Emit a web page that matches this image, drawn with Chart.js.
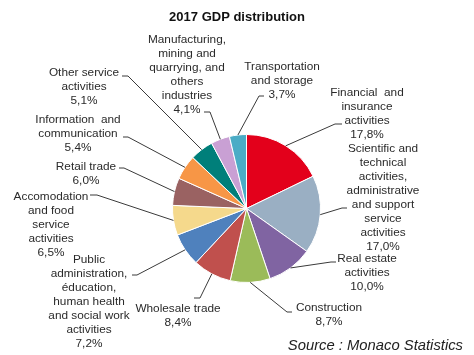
<!DOCTYPE html>
<html>
<head>
<meta charset="utf-8">
<script src="https://cdn.jsdelivr.net/npm/chart.js@4/dist/chart.umd.min.js"></script>
<style>
  html, body { margin: 0; padding: 0; background: #fff; }
  canvas { display: block; }
</style>
</head>
<body>
<canvas id="c" width="474" height="355"></canvas>
<script>
// ---- DATA ----
const categories = [
  "Financial and insurance activities",
  "Scientific and technical activities, administrative and support service activities",
  "Real estate activities",
  "Construction",
  "Wholesale trade",
  "Public administration, éducation, human health and social work activities",
  "Accomodation and food service activities",
  "Retail trade",
  "Information and communication",
  "Other service activities",
  "Manufacturing, mining and quarrying, and others industries",
  "Transportation and storage"
];
const values = [17.8, 17.0, 10.0, 8.7, 8.4, 7.2, 6.5, 6.0, 5.4, 5.1, 4.1, 3.7];
const labelLines = [
  ["Financial  and", "insurance", "activities"],
  ["Scientific and", "technical", "activities,", "administrative", "and support", "service", "activities"],
  ["Real estate", "activities"],
  ["Construction"],
  ["Wholesale trade"],
  ["Public", "administration,", "éducation,", "human health", "and social work", "activities"],
  ["Accomodation", "and food", "service", "activities"],
  ["Retail trade"],
  ["Information  and", "communication"],
  ["Other service", "activities"],
  ["Manufacturing,", "mining and", "quarrying, and", "others", "industries"],
  ["Transportation", "and storage"]
];
const titleText = "2017 GDP distribution";
const sourceText = "Source : Monaco Statistics";

// ---- STYLE / LAYOUT ----
const colors = ["#E3001B", "#9AAFC3", "#8064A2", "#9BBB59", "#C0504D", "#4F81BD",
                "#F5D98C", "#9A6262", "#F79646", "#007F7A", "#C9A0D4", "#4BACC6"];
// label layout: text centre x, first line centre y, tick start, tick elbow
const labelLayout = [
  {cx: 367, y0: 93,  t: [342, 124, 335, 124]},
  {cx: 383, y0: 149, t: [347, 208, 342, 208]},
  {cx: 367, y0: 259, t: [336, 262, 331, 262]},
  {cx: 329, y0: 308, t: [292, 312, 287, 312]},
  {cx: 178, y0: 309, t: [194, 298, 200, 298]},
  {cx: 89,  y0: 260, t: [132, 275, 137, 275]},
  {cx: 51,  y0: 197, t: [90, 195, 97, 195]},
  {cx: 86,  y0: 167, t: [119, 168, 124, 168]},
  {cx: 78,  y0: 120, t: [123, 137, 128, 137]},
  {cx: 84,  y0: 73,  t: [122, 76, 128, 76]},
  {cx: 187, y0: 40,  t: [204, 112, 210, 112]},
  {cx: 282, y0: 67,  t: [264, 96, 259, 96]}
];
const lineH = 14;

const labelPlugin = {
  id: 'labels',
  afterDraw(chart) {
    const ctx = chart.ctx;
    const meta = chart.getDatasetMeta(0);
    ctx.save();
    // title
    ctx.fillStyle = "#111";
    ctx.font = "bold 13px 'Liberation Sans', Arial, sans-serif";
    ctx.textAlign = "center";
    ctx.textBaseline = "middle";
    ctx.fillText(titleText, 237, 17);
    // labels
    meta.data.forEach((arc, i) => {
      const p = arc.getProps(['x', 'y', 'startAngle', 'endAngle', 'outerRadius'], true);
      const mid = (p.startAngle + p.endAngle) / 2;
      const ex = p.x + Math.cos(mid) * p.outerRadius;
      const ey = p.y + Math.sin(mid) * p.outerRadius;
      const L = labelLayout[i];
      ctx.strokeStyle = "#3a3a3a";
      ctx.lineWidth = 1;
      ctx.beginPath();
      ctx.moveTo(L.t[0], L.t[1]);
      ctx.lineTo(L.t[2], L.t[3]);
      ctx.lineTo(ex, ey);
      ctx.stroke();
      const lines = labelLines[i].concat([values[i].toFixed(1).replace('.', ',') + '%']);
      ctx.fillStyle = "#2a2a2a";
      ctx.font = "11.8px 'Liberation Sans', Arial, sans-serif";
      ctx.textAlign = "center";
      ctx.textBaseline = "middle";
      lines.forEach((ln, k) => ctx.fillText(ln, L.cx, L.y0 + k * lineH));
    });
    // source
    ctx.fillStyle = "#222";
    ctx.font = "italic 14.8px 'Liberation Sans', Arial, sans-serif";
    ctx.textAlign = "right";
    ctx.fillText(sourceText, 463, 346);
    ctx.restore();
  }
};

new Chart(document.getElementById('c'), {
  type: 'pie',
  data: {
    labels: categories,
    datasets: [{
      data: values,
      backgroundColor: colors,
      borderColor: "#ffffff",
      borderWidth: 1
    }]
  },
  options: {
    responsive: false,
    devicePixelRatio: 1,
    animation: false,
    layout: { padding: { left: 172, right: 153, top: 134, bottom: 72 } },
    plugins: { legend: { display: false }, tooltip: { enabled: false }, title: { display: false } }
  },
  plugins: [labelPlugin]
});
</script>
</body>
</html>
